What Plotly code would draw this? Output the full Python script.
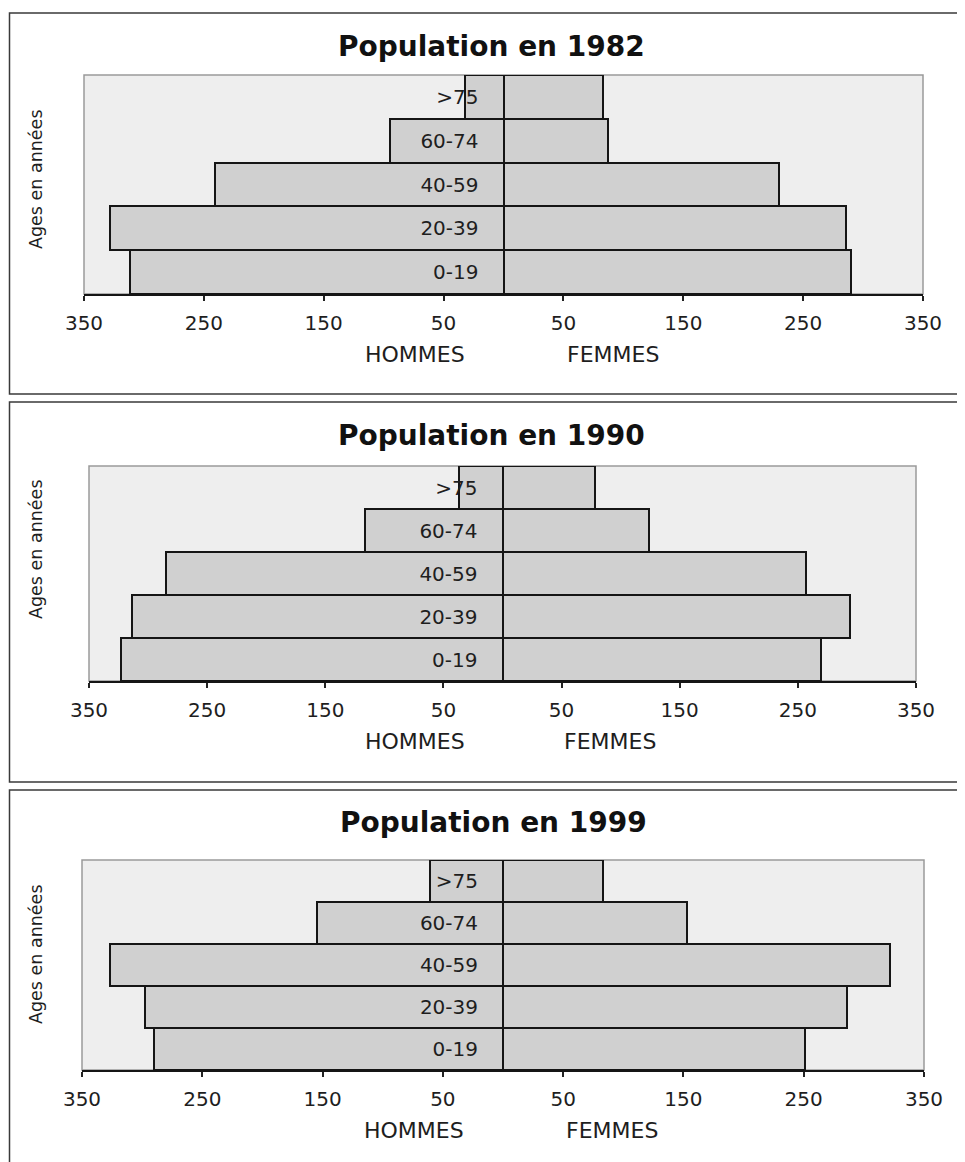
import plotly.graph_objects as go

# ---------------- data ----------------
categories = ["0-19", "20-39", "40-59", "60-74", ">75"]
years = ["1982", "1990", "1999"]

hommes_1982 = [312, 328, 241, 95, 32]
femmes_1982 = [290, 286, 230, 87, 83]

hommes_1990 = [323, 314, 285, 116, 37]
femmes_1990 = [270, 294, 257, 124, 78]

hommes_1999 = [290, 298, 327, 155, 61]
femmes_1999 = [251, 286, 322, 153, 83]

tick_values = [-350, -250, -150, -50, 50, 150, 250, 350]
tick_labels = [str(abs(v)) for v in tick_values]

title_prefix = "Population en "
y_title = "Ages en années"
label_hommes = "HOMMES"
label_femmes = "FEMMES"

hommes = [hommes_1982, hommes_1990, hommes_1999]
femmes = [femmes_1982, femmes_1990, femmes_1999]

# ---------------- layout geometry (pixels of the page) ----------------
W, H = 965, 1162
OFF = 8  # default page margin around the figure


def px(x):
    return (x - OFF) / W


def py(y):
    return 1 - (y - OFF) / H


panels = [
    dict(plot=(84, 923, 75, 294), frame=(9.5, 990, 13, 394), title=(491, 47), ytitle=(36, 179)),
    dict(plot=(89, 916, 466, 681), frame=(9.5, 990, 402, 782), title=(491, 436), ytitle=(36, 549)),
    dict(plot=(82, 924, 860, 1070), frame=(9.5, 990, 790, 1190), title=(493, 822), ytitle=(36, 954)),
]

FONT = "DejaVu Sans"
TXT = "#1e1e1e"
BAR = "#d0d0d0"
BG = "#eeeeee"

fig = go.Figure()
layout = dict(
    width=W,
    height=H,
    margin=dict(l=0, r=0, t=0, b=0, pad=0, autoexpand=False),
    paper_bgcolor="white",
    plot_bgcolor=BG,
    showlegend=False,
    barmode="relative",
    bargap=0,
    font=dict(family=FONT, color=TXT),
)
shapes = []
annotations = []

for i, (yr, hm, fm, p) in enumerate(zip(years, hommes, femmes, panels)):
    n = "" if i == 0 else str(i + 1)
    xa, ya = "x" + n, "y" + n
    x0, x1, y0, y1 = p["plot"]

    fig.add_trace(go.Bar(
        y=categories, x=[-v for v in hm], orientation="h",
        marker=dict(color=BAR, line=dict(color="#151515", width=2)),
        xaxis=xa, yaxis=ya, hoverinfo="skip",
    ))
    fig.add_trace(go.Bar(
        y=categories, x=fm, orientation="h",
        marker=dict(color=BAR, line=dict(color="#151515", width=2)),
        xaxis=xa, yaxis=ya, hoverinfo="skip",
    ))

    layout["xaxis" + n] = dict(
        domain=[px(x0), px(x1)], range=[-350, 350], anchor=ya,
        tickvals=tick_values, ticktext=tick_labels,
        ticks="outside", ticklen=5, tickwidth=1.5, tickcolor="#222",
        ticklabelstandoff=5, automargin=False,
        showline=True, linecolor="#151515", linewidth=2,
        showgrid=False, zeroline=False, fixedrange=True,
        tickfont=dict(family=FONT, size=20, color=TXT),
    )
    layout["yaxis" + n] = dict(
        domain=[py(y1), py(y0)], range=[-0.5, 4.5],
        type="category", categoryorder="array", categoryarray=categories,
        anchor="free", position=px((x0 + x1) / 2), side="left",
        showline=True, linecolor="#151515", linewidth=2,
        ticks="", ticklabelstandoff=20, automargin=False,
        showgrid=False, zeroline=False, fixedrange=True,
        tickfont=dict(family=FONT, size=20, color=TXT),
    )

    # grey frame of the plotting area
    shapes.append(dict(
        type="rect", xref=xa + " domain", yref=ya + " domain",
        x0=0, x1=1, y0=0, y1=1, layer="below",
        line=dict(color="#9a9a9a", width=1.5), fillcolor=BG,
    ))
    # panel frame
    fx0, fx1, fy0, fy1 = p["frame"]
    shapes.append(dict(
        type="rect", xref="paper", yref="paper",
        x0=px(fx0), x1=px(fx1), y0=py(fy1), y1=py(fy0),
        line=dict(color="#3a3a3a", width=1.5),
    ))

    tx, ty = p["title"]
    annotations.append(dict(
        text=title_prefix + yr, xref="paper", yref="paper",
        x=px(tx), y=py(ty), xanchor="center", yanchor="middle",
        showarrow=False, font=dict(family=FONT, size=28, color="#111", weight="bold"),
    ))
    yx, yy = p["ytitle"]
    annotations.append(dict(
        text=y_title, xref="paper", yref="paper",
        x=px(yx), y=py(yy), xanchor="center", yanchor="middle", textangle=-90,
        showarrow=False, font=dict(family=FONT, size=17.5, color=TXT),
    ))
    annotations.append(dict(
        text=label_hommes, xref=xa, yref=ya + " domain",
        x=-74, y=0, yshift=-60, xanchor="center", yanchor="middle",
        showarrow=False, font=dict(family=FONT, size=22, color=TXT),
    ))
    annotations.append(dict(
        text=label_femmes, xref=xa, yref=ya + " domain",
        x=91, y=0, yshift=-60, xanchor="center", yanchor="middle",
        showarrow=False, font=dict(family=FONT, size=22, color=TXT),
    ))

layout["shapes"] = shapes
layout["annotations"] = annotations
fig.update_layout(**layout)

fig.write_html("out.html")
